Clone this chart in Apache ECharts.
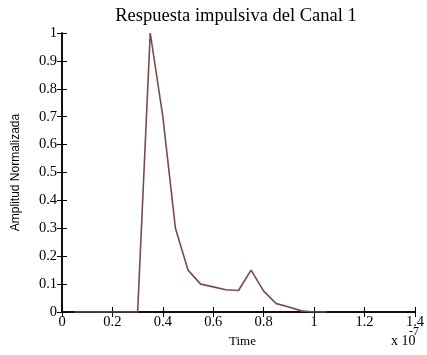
<!DOCTYPE html>
<html>
<head>
<meta charset="utf-8">
<script src="https://cdn.jsdelivr.net/npm/echarts@6/dist/echarts.min.js"></script>
<style>
  html, body { margin: 0; padding: 0; background: #fff; }
  #chart { width: 427px; height: 355px; }
</style>
</head>
<body>
<div id="chart"></div>
<script>
// time in units of 1e-7 s
var timeVals = [0.05, 0.10, 0.15, 0.20, 0.25, 0.30, 0.35, 0.40, 0.45, 0.50, 0.55, 0.60, 0.65, 0.70, 0.75, 0.80, 0.85, 0.90, 0.95, 1.00, 1.05]
var amplitude = [0, 0, 0, 0, 0, 0, 1.0, 0.70, 0.30, 0.15, 0.10, 0.09, 0.08, 0.077, 0.15, 0.075, 0.03, 0.018, 0.004, 0, 0]

var serif = 'Liberation Serif'
var lineColor = '#764c4c'

var chart = echarts.init(document.getElementById('chart'))

var points = timeVals.map(function (t, i) { return [t, amplitude[i]] })

var tickStyle = { show: true, inside: true, length: 5, lineStyle: { color: '#000', width: 1 } }
var axisLine = { show: true, lineStyle: { color: '#000', width: 1.5 } }

chart.setOption({
  animation: false,
  title: {
    text: 'Respuesta impulsiva del Canal 1',
    left: 231,
    top: 2,
    textAlign: 'center',
    textStyle: { fontFamily: serif, fontSize: 18.5, fontWeight: 'normal', color: '#000' }
  },
  grid: { left: 62, right: 10, top: 33, bottom: 43 },
  xAxis: [
    {
      type: 'value', min: 0, max: 1.4, interval: 0.2,
      axisLine: axisLine, axisTick: tickStyle, splitLine: { show: false },
      axisLabel: { fontFamily: serif, fontSize: 14.5, color: '#000', margin: 3 },
      name: 'Time', nameLocation: 'middle', nameGap: 14,
      nameTextStyle: { fontFamily: serif, fontSize: 13, color: '#000', padding: [0, 0, 0, 8] }
    },
    {
      type: 'value', position: 'top', min: 0, max: 1.4, interval: 0.2,
      axisLine: axisLine, axisTick: tickStyle, splitLine: { show: false },
      axisLabel: { show: false }
    }
  ],
  yAxis: [
    {
      type: 'value', min: 0, max: 1, interval: 0.1,
      axisLine: axisLine, axisTick: tickStyle, splitLine: { show: false },
      axisLabel: {
        fontFamily: serif, fontSize: 14.5, color: '#000', margin: 5,
        formatter: function (v) { return Math.round(v * 10) / 10 + '' }
      },
      name: 'Amplitud Normalizada', nameLocation: 'middle', nameGap: 40, nameRotate: 90,
      nameTextStyle: { fontFamily: 'Liberation Sans', fontSize: 12, color: '#000' }
    },
    {
      type: 'value', position: 'right', min: 0, max: 1, interval: 0.1,
      axisLine: axisLine, axisTick: tickStyle, splitLine: { show: false },
      axisLabel: { show: false }
    }
  ],
  graphic: [
    {
      type: 'text', left: 391, top: 334,
      style: { text: 'x 10', fontFamily: serif, fontSize: 14, fill: '#000' }
    },
    {
      type: 'text', left: 409, top: 326,
      style: { text: '-7', fontFamily: serif, fontSize: 12, fill: '#000' }
    }
  ],
  series: [
    {
      type: 'line',
      data: points,
      showSymbol: false,
      lineStyle: { color: lineColor, width: 1.6 },
      itemStyle: { color: lineColor }
    }
  ]
})
</script>
</body>
</html>
